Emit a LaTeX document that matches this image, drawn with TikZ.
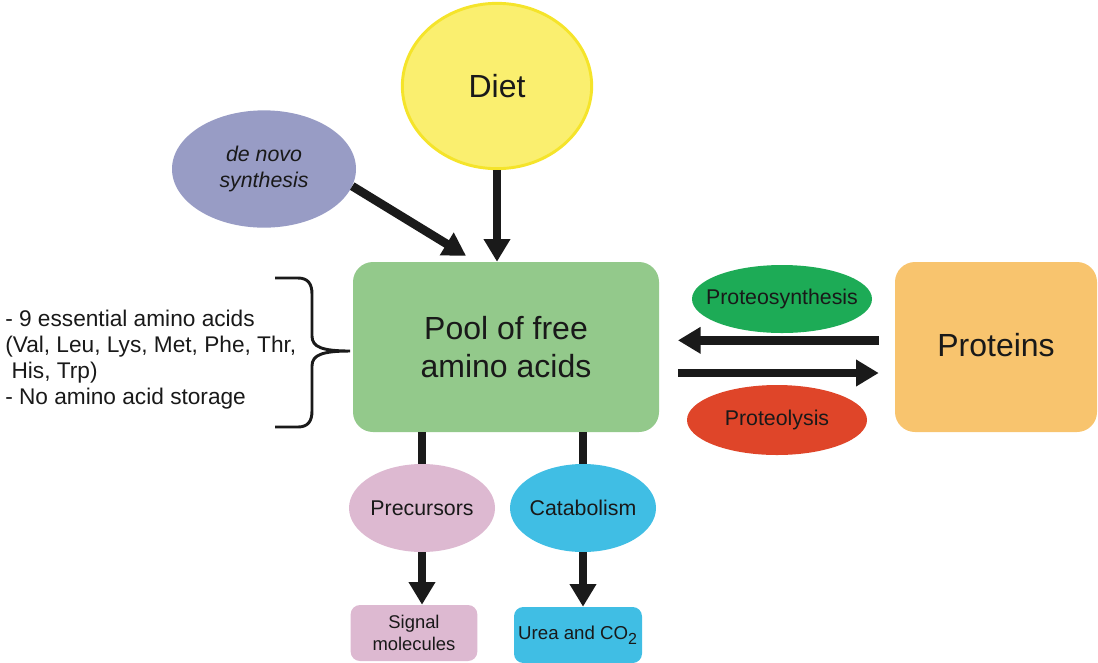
\documentclass[tikz,border=0pt]{standalone}
\usepackage{fontspec}
\setmainfont{Liberation Sans}
\usetikzlibrary{shapes.geometric,arrows.meta,positioning}
\definecolor{dietfill}{HTML}{FAEF6F}
\definecolor{dietline}{HTML}{F5E42A}
\definecolor{novofill}{HTML}{989CC5}
\definecolor{poolfill}{HTML}{93C98B}
\definecolor{protfill}{HTML}{F8C46E}
\definecolor{synthfill}{HTML}{1DAB56}
\definecolor{lysisfill}{HTML}{DF4529}
\definecolor{precfill}{HTML}{DDB9D1}
\definecolor{catafill}{HTML}{40BEE4}
\definecolor{arrowc}{HTML}{1A1A1A}

\begin{document}
\begin{tikzpicture}[x=0.75pt,y=-0.75pt,
  blob/.style={ellipse,inner sep=0pt,align=center,text=black!90},
  box/.style={rectangle,rounded corners=15pt,inner sep=0pt,align=center,text=black!90},
  bigarrow/.style={line width=6.5pt,draw=arrowc,-{Triangle[width=19pt,length=17pt]}},
  bigline/.style={line width=6.5pt,draw=arrowc}]
  \useasboundingbox (0,0) rectangle (1098,662);

  \node[blob,fill=dietfill,draw=dietline,line width=2.2pt,minimum width=142pt,minimum height=124pt,
    font=\fontsize{24}{28}\selectfont] (diet) at (497,86) {Diet};
  \node[blob,fill=novofill,minimum width=138pt,minimum height=88pt,
    font=\fontsize{16}{19.5}\selectfont\itshape] (novo) at (264,169) {de novo\\synthesis};
  \node[box,fill=poolfill,minimum width=229.5pt,minimum height=127.5pt,
    font=\fontsize{24}{28.5}\selectfont] (pool) at (506,347) {Pool of free\\amino acids};
  \node[box,fill=protfill,minimum width=151.5pt,minimum height=127.5pt,
    font=\fontsize{24}{28}\selectfont] (proteins) at (996,347) {\raisebox{2.5pt}{Proteins}};
  \node[blob,fill=synthfill,inner xsep=-10pt,minimum width=135pt,minimum height=51pt,
    font=\fontsize{16}{19}\selectfont] (synth) at (782,299) {Proteosynthesis};
  \node[blob,fill=lysisfill,minimum width=135pt,minimum height=52.5pt,
    font=\fontsize{16}{19}\selectfont] (lysis) at (777,420) {Proteolysis};
  \node[blob,fill=precfill,inner xsep=-3pt,minimum width=109.5pt,minimum height=66pt,
    font=\fontsize{16}{19}\selectfont] (prec) at (422,508) {Precursors};
  \node[blob,fill=catafill,inner xsep=-3pt,minimum width=109.5pt,minimum height=66pt,
    font=\fontsize{16}{19}\selectfont] (cata) at (583,508) {Catabolism};
  \node[box,rounded corners=7pt,fill=precfill,minimum width=95pt,minimum height=42pt,
    font=\fontsize{13.8}{17}\selectfont] (signal) at (414,633) {Signal\\molecules};
  \node[box,rounded corners=7pt,fill=catafill,minimum width=96pt,minimum height=42pt,
    font=\fontsize{14}{17}\selectfont] (urea) at (578,635) {\raisebox{-4pt}{Urea and CO\textsubscript{\fontsize{12}{12}\selectfont 2}}};
  \node[anchor=west,inner sep=0pt,align=left,text=black!90,
    font=\fontsize{17}{19.5}\selectfont] (facts) at (5,360)
    {- 9 essential amino acids\\(Val, Leu, Lys, Met, Phe, Thr,\\~His, Trp)\\- No amino acid storage};

  \draw[bigarrow] (novo.-11) -- ([xshift=-30pt,yshift=4.5pt]pool.north);
  \draw[bigarrow] (diet.south) -- (diet.south |- pool.north);
  \draw[bigarrow,shorten <=12pt,shorten >=14pt] ([yshift=5pt]proteins.west) -- ([yshift=5pt]pool.east);
  \draw[bigarrow,shorten <=14pt,shorten >=12pt] ([yshift=-19.5pt]pool.east) -- ([yshift=-19.5pt]proteins.west);
  \draw[bigline] (pool.south -| prec.north) -- (prec.north);
  \draw[bigline] (pool.south -| cata.north) -- (cata.north);
  \draw[bigarrow] (prec.south) -- (prec.south |- signal.north);
  \draw[bigarrow] (cata.south) -- (cata.south |- urea.north);

  \draw[line width=2.2pt,draw=arrowc] (275,278) -- (298,278) .. controls (308,278) and (312,284) .. (312,294)
    -- (312,336) .. controls (312,347) and (322,351) .. (350,351)
    .. controls (322,351) and (312,355) .. (312,366) -- (312,411)
    .. controls (312,421) and (308,427) .. (298,427) -- (275,427);
\end{tikzpicture}
\end{document}
